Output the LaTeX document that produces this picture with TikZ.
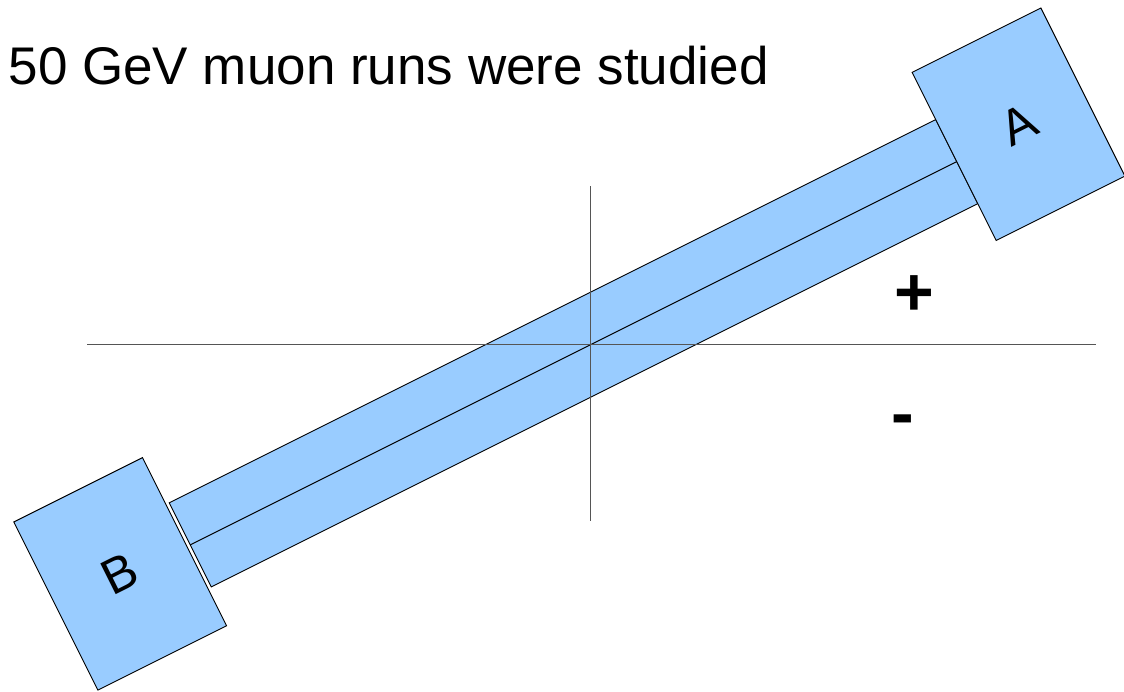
\documentclass[tikz,border=0pt]{standalone}
\usepackage{fontspec}
\setmainfont{Liberation Sans}
\usepackage{tikz}
\definecolor{detblue}{RGB}{153,204,255}
\definecolor{axisgrey}{RGB}{85,85,85}

\begin{document}
\begin{tikzpicture}[x=1pt,y=1pt,
    detbox/.style={draw,fill=detblue,line width=0.9pt,rotate=26.565,
      minimum width=144pt,minimum height=188pt,inner sep=0pt,
      font=\fontsize{50}{60}\selectfont}]
    \useasboundingbox (0,0) rectangle (1124,691);
    \coordinate (o) at (590,346);
    % tilted bar with its two end boxes
    \begin{scope}[shift={(o)},rotate=26.565]
      \filldraw[fill=detblue,line width=0.9pt] (-447,-47) rectangle (410,47);
      \draw[line width=0.9pt] (-447,0) -- (410,0);
      \node[detbox] (A) at (482,5.8) {A};
      \node[detbox] (B) at (-522.6,5.4) {B};
    \end{scope}
    % axes through the centre
    \draw[axisgrey,line width=1pt] (87,346) -- (1096,346);
    \draw[axisgrey,line width=1pt] (590,170) -- (590,505);
    \node[anchor=base west,font=\fontsize{53}{62}\selectfont] (title) at (5,606)
      {50 GeV muon runs were studied};
    \node[font=\bfseries\fontsize{68}{72}\selectfont] (plus) at (914,395) {+};
    \node[font=\bfseries\fontsize{68}{72}\selectfont] (minus) at (903,265) {-};
  \end{tikzpicture}
\end{document}
